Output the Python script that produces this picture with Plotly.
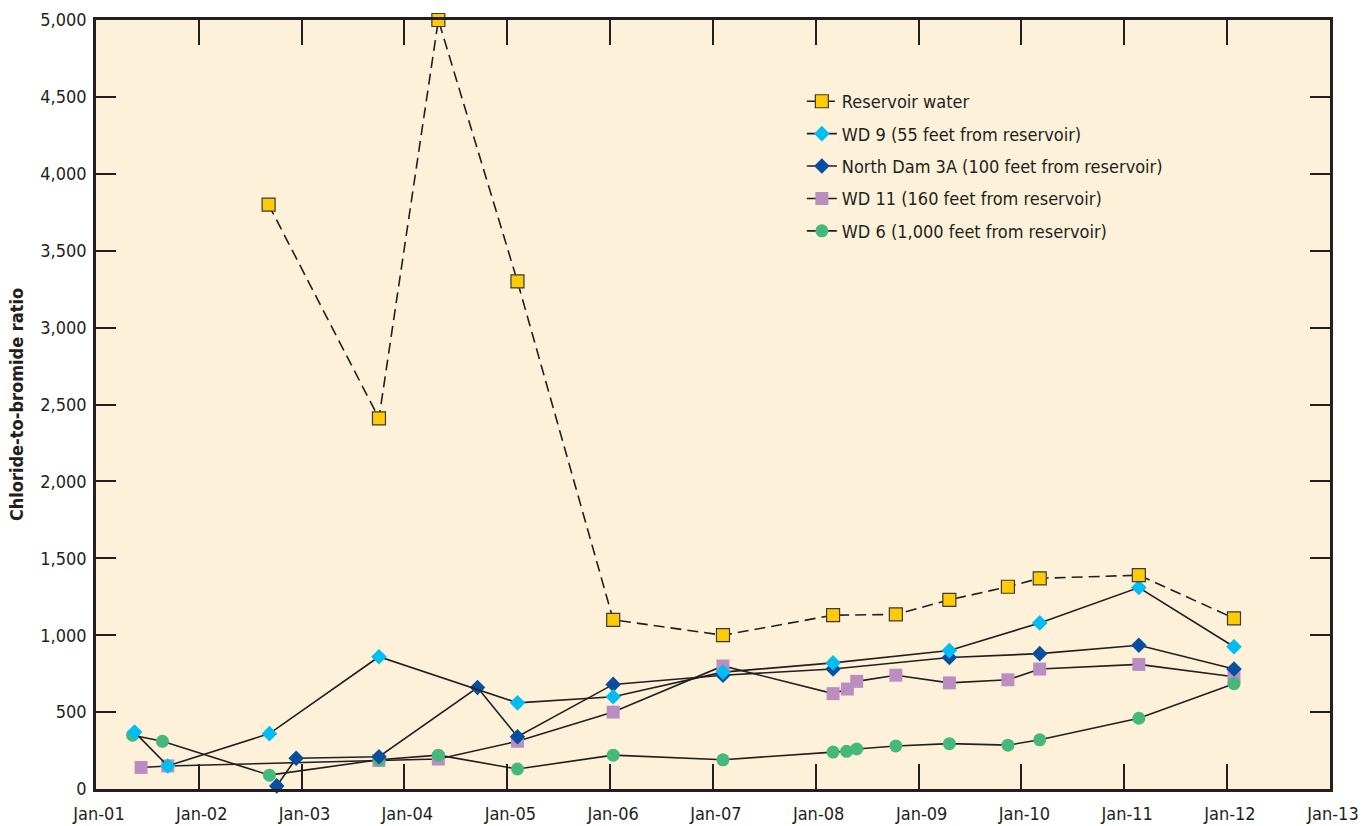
import plotly.graph_objects as go

# Sample dates and chloride-to-bromide ratios for each sampling site
res_dates = ["2002-09-06", "2003-10-03", "2004-05-01", "2005-02-06", "2006-01-12",
             "2007-02-06", "2008-03-03", "2008-10-12", "2009-04-20", "2009-11-14",
             "2010-03-07", "2011-02-22", "2012-01-26"]
res_vals = [3800, 2410, 5000, 3300, 1100, 1000, 1130, 1135, 1230, 1315, 1370, 1390, 1110]

wd9_dates = ["2001-05-18", "2001-09-13", "2002-09-09", "2003-10-03", "2005-02-06",
             "2006-01-12", "2007-02-06", "2008-03-03", "2009-04-20", "2010-03-07",
             "2011-02-22", "2012-01-26"]
wd9_vals = [370, 150, 360, 860, 560, 600, 760, 820, 900, 1080, 1310, 925]

nd3a_dates = ["2002-10-05", "2002-12-13", "2003-10-03", "2004-09-17", "2005-02-06",
              "2006-01-12", "2007-02-06", "2008-03-03", "2009-04-20", "2010-03-07",
              "2011-02-22", "2012-01-26"]
nd3a_vals = [20, 200, 210, 660, 340, 680, 740, 780, 855, 880, 935, 780]

wd11_dates = ["2001-06-10", "2001-09-13", "2003-10-03", "2004-05-01", "2005-02-06",
              "2006-01-12", "2007-02-06", "2008-03-03", "2008-04-23", "2008-05-26",
              "2008-10-12", "2009-04-20", "2009-11-14", "2010-03-07", "2011-02-22",
              "2012-01-26"]
wd11_vals = [140, 150, 185, 195, 310, 500, 800, 620, 650, 700, 740, 690, 710, 780, 810, 730]

wd6_dates = ["2001-05-11", "2001-08-25", "2002-09-09", "2003-10-03", "2004-05-01",
             "2005-02-06", "2006-01-12", "2007-02-06", "2008-03-03", "2008-04-20",
             "2008-05-26", "2008-10-12", "2009-04-20", "2009-11-14", "2010-03-07",
             "2011-02-22", "2012-01-26"]
wd6_vals = [350, 310, 90, 190, 220, 130, 220, 190, 240, 245, 260, 280, 295, 285, 320, 460, 685]

y_ticks = list(range(0, 5001, 500))

FONT = "DejaVu Sans Condensed, Arial Narrow, sans-serif"
INK = "#231f20"

fig = go.Figure()

# Drawn bottom-to-top; legendrank keeps the key in site order
series = [
    ("WD 11 (160 feet from reservoir)", wd11_dates, wd11_vals,
     dict(symbol="square", size=13, color="#bb8ec2", line=dict(width=0)), "solid", 4),
    ("WD 6 (1,000 feet from reservoir)", wd6_dates, wd6_vals,
     dict(symbol="circle", size=13, color="#44b97b", line=dict(width=0)), "solid", 5),
    ("North Dam 3A (100 feet from reservoir)", nd3a_dates, nd3a_vals,
     dict(symbol="diamond", size=12, color="#0a4f9f", line=dict(width=0)), "solid", 3),
    ("WD 9 (55 feet from reservoir)", wd9_dates, wd9_vals,
     dict(symbol="diamond", size=12, color="#00bdf2", line=dict(width=0)), "solid", 2),
    ("Reservoir water", res_dates, res_vals,
     dict(symbol="square", size=13, color="#ffcb05", line=dict(width=1.2, color="#3a3a3a")),
     "11px,6px", 1),
]

for name, xs, ys, marker, dash, rank in series:
    fig.add_trace(go.Scatter(
        x=xs, y=ys, name=name, mode="lines+markers",
        line=dict(color=INK, width=1.6, dash=dash),
        marker=marker, cliponaxis=False, legendrank=rank,
        legendgroup=name,
    ))

fig.update_layout(
    width=1372, height=826,
    margin=dict(l=96, r=42, t=20, b=37),
    paper_bgcolor="white",
    plot_bgcolor="#fdf1da",
    font=dict(family=FONT, size=18, color=INK),
    showlegend=True,
    legend=dict(
        x=0.572, y=0.918, xanchor="left", yanchor="top",
        bgcolor="rgba(0,0,0,0)", borderwidth=0,
        font=dict(family=FONT, size=18, color=INK),
        tracegroupgap=6,
    ),
)

fig.update_xaxes(
    type="date",
    range=["2001-01-01", "2013-01-01"],
    dtick="M12", tick0="2001-01-01", tickformat="%b-%y",
    ticks="inside", ticklen=25, tickwidth=1.5, tickcolor=INK,
    showline=True, linewidth=2.5, linecolor=INK, mirror="ticks",
    showgrid=False, zeroline=False, automargin=False,
    ticklabelstandoff=7, ticklabelshift=3,
    tickfont=dict(family=FONT, size=18, color=INK),
)

fig.update_yaxes(
    range=[0, 5000],
    tickvals=y_ticks, tickformat=",d",
    ticks="inside", ticklen=20, tickwidth=1.5, tickcolor=INK,
    showline=True, linewidth=2.5, linecolor=INK, mirror="ticks",
    showgrid=False, zeroline=False, automargin=False,
    ticklabelstandoff=3,
    tickfont=dict(family=FONT, size=18, color=INK),
    title=dict(text="<b>Chloride-to-bromide ratio</b>",
               font=dict(family=FONT, size=18, color=INK), standoff=12),
)

fig.write_html("out.html")
